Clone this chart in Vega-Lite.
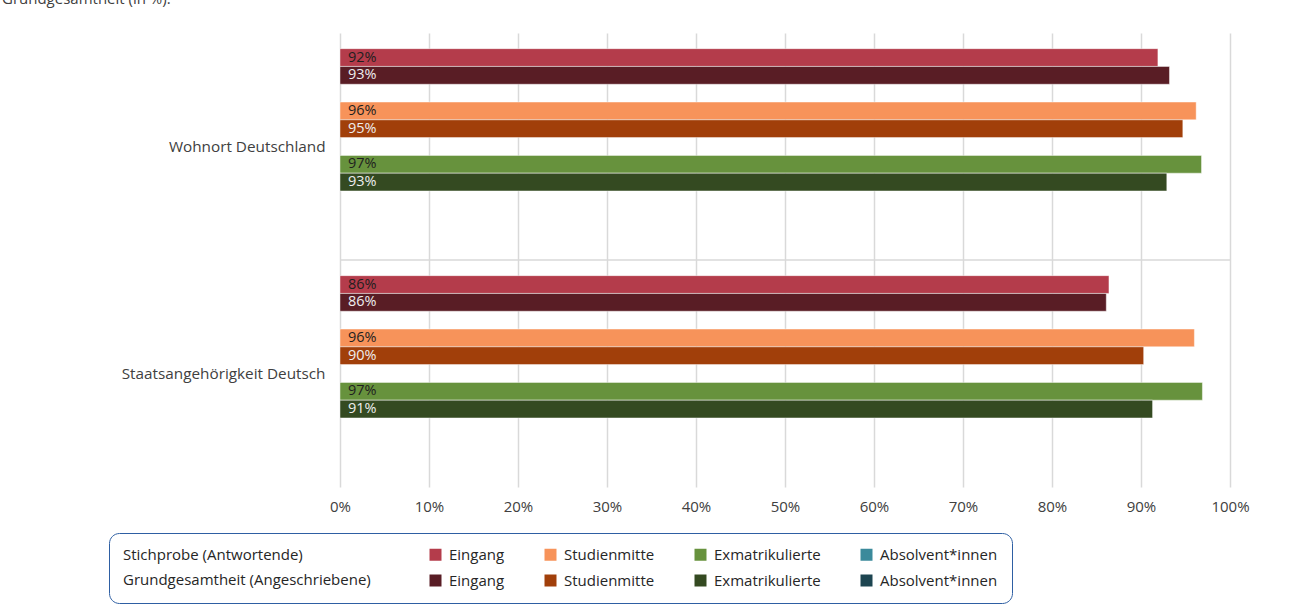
{
  "$schema": "https://vega.github.io/schema/vega-lite/v6.json",
  "width": 890,
  "height": 454,
  "autosize": {"type": "none"},
  "padding": {"left": 340, "top": 33, "right": 60, "bottom": 123},
  "background": "white",
  "title": {
    "text": "Grundgesamtheit (in %).",
    "anchor": "start",
    "frame": "group",
    "dx": -338,
    "offset": 14,
    "baseline": "alphabetic",
    "fontSize": 15,
    "fontWeight": "normal",
    "color": "#404040"
  },
  "config": {
    "font": "Open Sans",
    "view": {"stroke": null}
  },
  "data": {
    "values": [
      {"kategorie": "Wohnort Deutschland", "gruppe": "Eingang", "stichprobe": "S", "serie": "S Eingang", "wert": 0.919},
      {"kategorie": "Wohnort Deutschland", "gruppe": "Eingang", "stichprobe": "G", "serie": "G Eingang", "wert": 0.932},
      {"kategorie": "Wohnort Deutschland", "gruppe": "Studienmitte", "stichprobe": "S", "serie": "S Studienmitte", "wert": 0.962},
      {"kategorie": "Wohnort Deutschland", "gruppe": "Studienmitte", "stichprobe": "G", "serie": "G Studienmitte", "wert": 0.947},
      {"kategorie": "Wohnort Deutschland", "gruppe": "Exmatrikulierte", "stichprobe": "S", "serie": "S Exmatrikulierte", "wert": 0.968},
      {"kategorie": "Wohnort Deutschland", "gruppe": "Exmatrikulierte", "stichprobe": "G", "serie": "G Exmatrikulierte", "wert": 0.929},
      {"kategorie": "Staatsangehörigkeit Deutsch", "gruppe": "Eingang", "stichprobe": "S", "serie": "S Eingang", "wert": 0.864},
      {"kategorie": "Staatsangehörigkeit Deutsch", "gruppe": "Eingang", "stichprobe": "G", "serie": "G Eingang", "wert": 0.861},
      {"kategorie": "Staatsangehörigkeit Deutsch", "gruppe": "Studienmitte", "stichprobe": "S", "serie": "S Studienmitte", "wert": 0.96},
      {"kategorie": "Staatsangehörigkeit Deutsch", "gruppe": "Studienmitte", "stichprobe": "G", "serie": "G Studienmitte", "wert": 0.903},
      {"kategorie": "Staatsangehörigkeit Deutsch", "gruppe": "Exmatrikulierte", "stichprobe": "S", "serie": "S Exmatrikulierte", "wert": 0.969},
      {"kategorie": "Staatsangehörigkeit Deutsch", "gruppe": "Exmatrikulierte", "stichprobe": "G", "serie": "G Exmatrikulierte", "wert": 0.913}
    ]
  },
  "encoding": {
    "y": {
      "field": "kategorie",
      "type": "nominal",
      "sort": ["Wohnort Deutschland", "Staatsangehörigkeit Deutsch"],
      "scale": {"paddingInner": 0, "paddingOuter": 0},
      "axis": {
        "title": null,
        "domain": false,
        "ticks": false,
        "grid": false,
        "labelPadding": 15,
        "labelFontSize": 15.3,
        "labelColor": "#404040",
        "labelLimit": 400
      }
    }
  },
  "layer": [
    {
      "mark": {"type": "bar", "stroke": "white", "strokeOpacity": 0.45, "strokeWidth": 1},
      "encoding": {
        "yOffset": {
          "field": "serie",
          "type": "nominal",
          "scale": {
            "domain": ["S Eingang", "G Eingang", "gap1", "S Studienmitte", "G Studienmitte", "gap2", "S Exmatrikulierte", "G Exmatrikulierte", "gap3", "S Absolvent*innen", "G Absolvent*innen"],
            "paddingInner": 0,
            "paddingOuter": 0.88
          }
        },
        "x": {
          "field": "wert",
          "type": "quantitative",
          "scale": {"domain": [0, 1], "nice": false},
          "axis": {
            "title": null,
            "format": ".0%",
            "values": [0, 0.1, 0.2, 0.3, 0.4, 0.5, 0.6, 0.7, 0.8, 0.9, 1],
            "grid": true,
            "gridColor": "#d9d9d9",
            "gridWidth": 1.5,
            "domain": false,
            "ticks": false,
            "labelFlush": false,
            "labelPadding": 12,
            "labelFontSize": 15,
            "labelColor": "#404040"
          }
        },
        "color": {
          "field": "serie",
          "type": "nominal",
          "scale": {
            "domain": ["S Eingang", "S Studienmitte", "S Exmatrikulierte", "S Absolvent*innen", "G Eingang", "G Studienmitte", "G Exmatrikulierte", "G Absolvent*innen"],
            "range": ["#b43c4b", "#f7935a", "#67923d", "#3b8a9b", "#591d25", "#a13f0a", "#344a21", "#1d4551"]
          },
          "legend": {
            "orient": "none",
            "legendX": -231,
            "legendY": 500,
            "direction": "horizontal",
            "columns": 4,
            "gridAlign": "each",
            "title": ["Stichprobe (Antwortende)", "Grundgesamtheit (Angeschriebene)"],
            "titleOrient": "left",
            "titleLineHeight": 25,
            "titleFontSize": 15,
            "titleFontWeight": "normal",
            "titleColor": "#262626",
            "titleLimit": 500,
            "titlePadding": 57,
            "labelExpr": "slice(datum.label, 2)",
            "labelFontSize": 15,
            "labelColor": "#262626",
            "labelOffset": 6,
            "labelLimit": 300,
            "symbolType": "square",
            "symbolSize": 144,
            "symbolStrokeWidth": 0,
            "columnPadding": 38,
            "rowPadding": 10,
            "padding": 14,
            "strokeColor": "#2e5fa3",
            "cornerRadius": 10
          }
        }
      }
    },
    {
      "mark": {"type": "text", "align": "left", "baseline": "middle", "dx": 8, "fontSize": 14.5},
      "encoding": {
        "yOffset": {"field": "serie", "type": "nominal"},
        "x": {"datum": 0, "type": "quantitative"},
        "text": {"field": "wert", "type": "quantitative", "format": ".0%"},
        "color": {
          "condition": {"test": "datum.stichprobe == 'S'", "value": "#1f1f1f"},
          "value": "#eeeeee"
        }
      }
    },
    {
      "data": {"values": [{"kategorie": "Staatsangehörigkeit Deutsch"}]},
      "mark": {"type": "rule", "color": "#d9d9d9", "strokeWidth": 1.5},
      "encoding": {
        "y": {"field": "kategorie", "type": "nominal", "bandPosition": 0}
      }
    }
  ]
}
